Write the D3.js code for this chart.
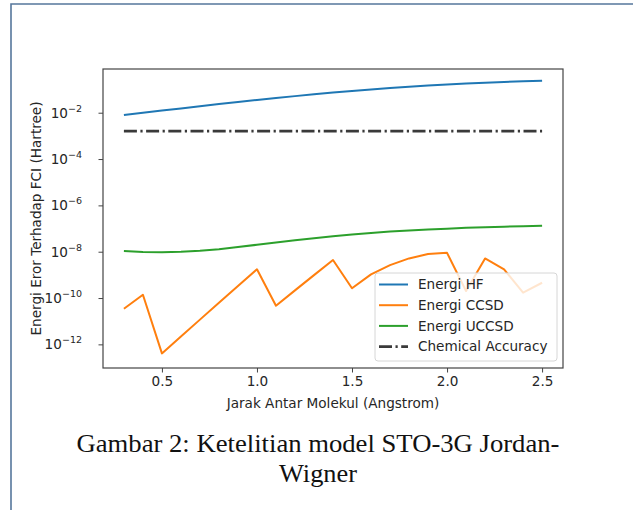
<!DOCTYPE html>
<html>
<head>
<meta charset="utf-8">
<script src="https://cdn.jsdelivr.net/npm/d3@7"></script>
<style>
  body { margin: 0; background: #fff; }
  svg { display: block; }
</style>
</head>
<body>
<svg id="chart" width="633" height="510"></svg>
<script>
// Bond distance (Angstrom)
const distances = [0.3, 0.4, 0.5, 0.6, 0.7, 0.8, 0.9, 1.0, 1.1, 1.2, 1.3, 1.4,
                   1.5, 1.6, 1.7, 1.8, 1.9, 2.0, 2.1, 2.2, 2.3, 2.4, 2.5];

// Energy error relative to FCI (Hartree)
const hfError = [0.00796, 0.00993, 0.01236, 0.01535, 0.01901, 0.02350, 0.02891,
                 0.03540, 0.04305, 0.05200, 0.06223, 0.07379, 0.08670, 0.1007,
                 0.1156, 0.1315, 0.1483, 0.1656, 0.1824, 0.1982, 0.2133, 0.2280,
                 0.2415];
const ccsdError = [3.47e-11, 1.38e-10, 4.07e-13, 2.19e-12, 1.17e-11, 6.31e-11,
                   3.31e-10, 1.74e-9, 4.68e-11, 2.14e-10, 9.77e-10, 4.37e-9,
                   2.63e-10, 1.05e-9, 2.63e-9, 5.13e-9, 7.94e-9, 8.91e-9,
                   2.0e-10, 5.13e-9, 1.74e-9, 1.70e-10, 4.57e-10];
const uccsdError = [1.084e-8, 9.66e-9, 9.44e-9, 9.89e-9, 1.096e-8, 1.288e-8,
                    1.585e-8, 1.995e-8, 2.512e-8, 3.126e-8, 3.846e-8, 4.677e-8,
                    5.559e-8, 6.457e-8, 7.413e-8, 8.318e-8, 9.120e-8, 9.886e-8,
                    1.072e-7, 1.135e-7, 1.202e-7, 1.268e-7, 1.334e-7];
const chemicalAccuracy = 0.0016;

const seriesNames = ["Energi HF", "Energi CCSD", "Energi UCCSD", "Chemical Accuracy"];
const xTicks = [0.5, 1.0, 1.5, 2.0, 2.5];
const yTickExponents = [-2, -4, -6, -8, -10, -12];

const xLabel = "Jarak Antar Molekul (Angstrom)";
const yLabel = "Energi Eror Terhadap FCI (Hartree)";
const captionLines = ["Gambar 2: Ketelitian model STO-3G Jordan-", "Wigner"];

const svg = d3.select("#chart");
const plot = { left: 103, right: 563, top: 69, bottom: 368 };
const font = "'DejaVu Sans', sans-serif";
const fs = 13.6;
const ink = "#262626";

// Page frame
svg.append("path")
  .attr("d", `M11,510 L11,4 L633,4`)
  .attr("fill", "none")
  .attr("stroke", "#56779c")
  .attr("stroke-width", 1.6);

const x = d3.scaleLinear().domain([0.19, 2.61]).range([plot.left, plot.right]);
const y = d3.scaleLog().domain([Math.pow(10, -13.02), Math.pow(10, -0.113)])
  .range([plot.bottom, plot.top]);

const line = d3.line().x(d => x(d[0])).y(d => y(d[1]));
const zipped = vals => distances.map((d, i) => [d, vals[i]]);

const g = svg.append("g");

const series = [
  { name: seriesNames[0], values: hfError, color: "#1f77b4" },
  { name: seriesNames[1], values: ccsdError, color: "#ff7f0e" },
  { name: seriesNames[2], values: uccsdError, color: "#2ca02c" }
];

series.forEach(s => {
  g.append("path")
    .datum(zipped(s.values))
    .attr("d", line)
    .attr("fill", "none")
    .attr("stroke", s.color)
    .attr("stroke-width", 2)
    .attr("stroke-linejoin", "round");
});

const dashDot = "13,3.5,2.2,3.5";
g.append("path")
  .datum([[distances[0], chemicalAccuracy], [distances[distances.length - 1], chemicalAccuracy]])
  .attr("d", line)
  .attr("fill", "none")
  .attr("stroke", "#3a3a3a")
  .attr("stroke-width", 2.6)
  .attr("stroke-dasharray", dashDot);

// Axes
const xAxis = d3.axisBottom(x).tickValues(xTicks).tickFormat(d3.format(".1f"))
  .tickSize(4.5).tickPadding(4);
const xg = svg.append("g").attr("transform", `translate(0,${plot.bottom})`).call(xAxis);
xg.select(".domain").remove();
xg.selectAll("line").attr("stroke", "#444").attr("stroke-width", 1);
xg.selectAll("text").attr("font-family", font).attr("font-size", fs).attr("fill", ink);

const yAxis = d3.axisLeft(y).tickValues(yTickExponents.map(e => Math.pow(10, e)))
  .tickFormat("").tickSize(4.5);
const yg = svg.append("g").attr("transform", `translate(${plot.left},0)`).call(yAxis);
yg.select(".domain").remove();
yg.selectAll("line").attr("stroke", "#444").attr("stroke-width", 1);

yTickExponents.forEach(e => {
  const t = svg.append("text")
    .attr("x", plot.left - 21)
    .attr("y", y(Math.pow(10, e)) + 5)
    .attr("text-anchor", "end")
    .attr("font-family", font)
    .attr("font-size", fs)
    .attr("fill", ink);
  t.append("tspan").text("10");
  t.append("tspan").attr("dy", -6).attr("font-size", fs * 0.7).text("\u2212" + Math.abs(e));
});

// Spines
svg.append("rect")
  .attr("x", plot.left).attr("y", plot.top)
  .attr("width", plot.right - plot.left).attr("height", plot.bottom - plot.top)
  .attr("fill", "none").attr("stroke", "#444").attr("stroke-width", 1.2);

// Axis labels
svg.append("text")
  .attr("x", (plot.left + plot.right) / 2).attr("y", 408)
  .attr("text-anchor", "middle")
  .attr("font-family", font).attr("font-size", fs).attr("fill", ink)
  .text(xLabel);

svg.append("text")
  .attr("transform", `translate(41,${(plot.top + plot.bottom) / 2}) rotate(-90)`)
  .attr("text-anchor", "middle")
  .attr("font-family", font).attr("font-size", fs).attr("fill", ink)
  .text(yLabel);

// Legend
const legend = svg.append("g").attr("transform", "translate(375,273)");
legend.append("rect")
  .attr("width", 182).attr("height", 88).attr("rx", 3)
  .attr("fill", "#fff").attr("fill-opacity", 0.8)
  .attr("stroke", "#d6d6d6").attr("stroke-width", 1);

const legendItems = series.map(s => ({ name: s.name, color: s.color, dash: null, width: 2 }))
  .concat([{ name: seriesNames[3], color: "#3a3a3a", dash: dashDot, width: 2.6 }]);

legendItems.forEach((item, i) => {
  const cy = 11.5 + i * 20.7;
  legend.append("line")
    .attr("x1", 4).attr("x2", 33).attr("y1", cy).attr("y2", cy)
    .attr("stroke", item.color).attr("stroke-width", item.width)
    .attr("stroke-dasharray", item.dash);
  legend.append("text")
    .attr("x", 43).attr("y", cy + 4.8)
    .attr("font-family", font).attr("font-size", fs).attr("fill", ink)
    .text(item.name);
});

// Caption
const captionWidths = [483, 78];
captionLines.forEach((l, i) => {
  svg.append("text")
    .attr("x", 318).attr("y", 452 + i * 30)
    .attr("text-anchor", "middle")
    .attr("font-family", "'Liberation Serif', serif")
    .attr("font-size", 26)
    .attr("textLength", captionWidths[i])
    .attr("lengthAdjust", "spacingAndGlyphs")
    .attr("fill", "#111")
    .text(l);
});
</script>
</body>
</html>
